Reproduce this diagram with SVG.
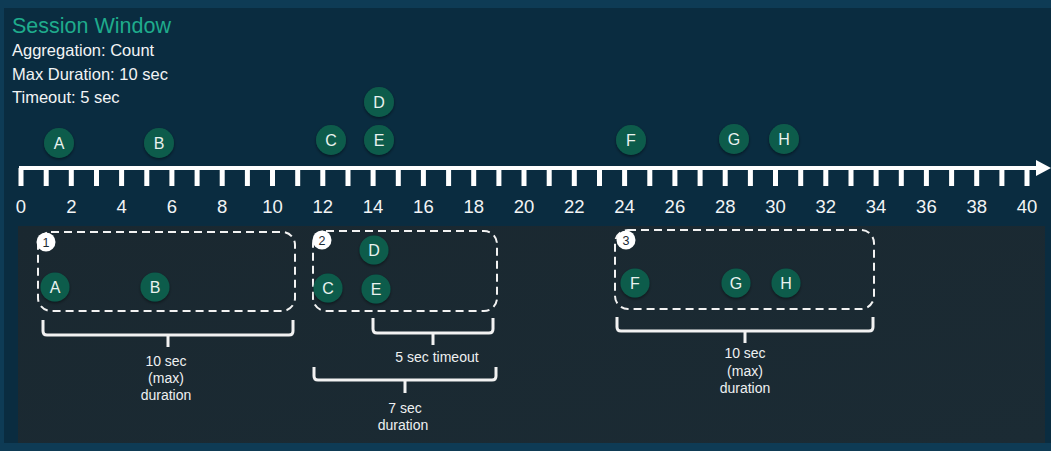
<svg xmlns="http://www.w3.org/2000/svg" width="1051" height="451" viewBox="0 0 1051 451">
<defs>
<style>
.ev{fill:#0e5c4b}
.evt{fill:#e9f2ef;font-family:"Liberation Sans",Arial,sans-serif;font-size:16px;text-anchor:middle}
.num{fill:#f2f4f5;font-family:"Liberation Sans",Arial,sans-serif;font-size:18.5px;text-anchor:middle}
.info{fill:#f2f4f5;font-family:"Liberation Sans",Arial,sans-serif;font-size:16.5px}
.lbl{fill:#eef0f1;font-family:"Liberation Sans",Arial,sans-serif;font-size:14px;text-anchor:middle}
.box{fill:none;stroke:#f2f2f2;stroke-width:2;stroke-dasharray:8 5}
.badge{fill:#ffffff}
.badget{fill:#1b2a33;font-family:"Liberation Sans",Arial,sans-serif;font-size:12.5px;text-anchor:middle}
.brace{fill:none;stroke:#f2f2f2;stroke-width:3;stroke-linejoin:round}
</style>
<filter id="sh" x="-30%" y="-30%" width="160%" height="160%">
<feDropShadow dx="0" dy="1.5" stdDeviation="1.5" flood-color="#000" flood-opacity="0.45"/>
</filter>
<linearGradient id="bot" x1="0" y1="0" x2="1" y2="1">
<stop offset="0" stop-color="#1a2830"/>
<stop offset="1" stop-color="#1b2b34"/>
</linearGradient>
</defs>
<rect x="0" y="0" width="1051" height="451" fill="#0e3b55"/>
<rect x="4" y="8" width="1047" height="443" fill="#0a2c40"/>
<rect x="18" y="226" width="1027" height="217" fill="url(#bot)"/>
<rect x="0" y="443" width="1051" height="8" fill="#0e3b55"/>

<g id="header">
<text x="12" y="33" fill="#1fab8c" font-family="'Liberation Sans',Arial,sans-serif" font-size="21.5">Session Window</text>
<text class="info" x="12" y="56">Aggregation: Count</text>
<text class="info" x="12" y="80">Max Duration: 10 sec</text>
<text class="info" x="12" y="103">Timeout: 5 sec</text>
</g>

<g id="timeline">
<line x1="19" y1="168" x2="1037" y2="168" stroke="#ffffff" stroke-width="4"/>
<polygon points="1036,160 1051,168 1036,176" fill="#ffffff"/>
<path stroke="#ffffff" stroke-width="5" fill="none" d="M21,168V186M46.2,168V186M71.3,168V186M96.5,168V186M121.6,168V186M146.8,168V186M171.9,168V186M197.1,168V186M222.2,168V186M247.4,168V186M272.5,168V186M297.7,168V186M322.8,168V186M348,168V186M373.1,168V186M398.3,168V186M423.4,168V186M448.6,168V186M473.7,168V186M498.9,168V186M524,168V186M549.2,168V186M574.3,168V186M599.5,168V186M624.6,168V186M649.8,168V186M674.9,168V186M700.1,168V186M725.2,168V186M750.4,168V186M775.5,168V186M800.7,168V186M825.8,168V186M851,168V186M876.1,168V186M901.3,168V186M926.4,168V186M951.6,168V186M976.7,168V186M1001.9,168V186M1027,168V186"/>
<text class="num" x="21" y="213">0</text>
<text class="num" x="71.3" y="213">2</text>
<text class="num" x="121.6" y="213">4</text>
<text class="num" x="171.9" y="213">6</text>
<text class="num" x="222.2" y="213">8</text>
<text class="num" x="272.5" y="213">10</text>
<text class="num" x="322.8" y="213">12</text>
<text class="num" x="373.1" y="213">14</text>
<text class="num" x="423.4" y="213">16</text>
<text class="num" x="473.7" y="213">18</text>
<text class="num" x="524" y="213">20</text>
<text class="num" x="574.3" y="213">22</text>
<text class="num" x="624.6" y="213">24</text>
<text class="num" x="674.9" y="213">26</text>
<text class="num" x="725.2" y="213">28</text>
<text class="num" x="775.5" y="213">30</text>
<text class="num" x="825.8" y="213">32</text>
<text class="num" x="876.1" y="213">34</text>
<text class="num" x="926.4" y="213">36</text>
<text class="num" x="976.7" y="213">38</text>
<text class="num" x="1027" y="213">40</text>
</g>

<g id="events-top">
<g id="ev-A"><circle class="ev" cx="59" cy="143" r="15" filter="url(#sh)"/><text class="evt" x="59" y="149">A</text></g>
<g id="ev-B"><circle class="ev" cx="159" cy="143" r="15" filter="url(#sh)"/><text class="evt" x="159" y="149">B</text></g>
<g id="ev-C"><circle class="ev" cx="331" cy="140" r="15" filter="url(#sh)"/><text class="evt" x="331" y="146">C</text></g>
<g id="ev-D"><circle class="ev" cx="379" cy="102" r="15" filter="url(#sh)"/><text class="evt" x="379" y="108">D</text></g>
<g id="ev-E"><circle class="ev" cx="379" cy="140" r="15" filter="url(#sh)"/><text class="evt" x="379" y="146">E</text></g>
<g id="ev-F"><circle class="ev" cx="631" cy="140" r="15" filter="url(#sh)"/><text class="evt" x="631" y="146">F</text></g>
<g id="ev-G"><circle class="ev" cx="734" cy="139" r="15" filter="url(#sh)"/><text class="evt" x="734" y="145">G</text></g>
<g id="ev-H"><circle class="ev" cx="784" cy="139" r="15" filter="url(#sh)"/><text class="evt" x="784" y="145">H</text></g>
</g>

<g id="session-1">
<rect class="box" x="38" y="232" width="257" height="79" rx="13"/>
<circle class="badge" cx="46" cy="242" r="9.5"/><text class="badget" x="46" y="246.5">1</text>
<circle class="ev" cx="55" cy="287" r="14.5" filter="url(#sh)"/><text class="evt" x="55" y="293">A</text>
<circle class="ev" cx="155" cy="287" r="14.5" filter="url(#sh)"/><text class="evt" x="155" y="293">B</text>
</g>

<g id="session-2">
<rect class="box" x="313" y="231" width="184" height="80" rx="13"/>
<circle class="badge" cx="322" cy="240" r="9.5"/><text class="badget" x="322" y="244.5">2</text>
<circle class="ev" cx="374" cy="250" r="14.5" filter="url(#sh)"/><text class="evt" x="374" y="256">D</text>
<circle class="ev" cx="328" cy="288" r="14.5" filter="url(#sh)"/><text class="evt" x="328" y="294">C</text>
<circle class="ev" cx="376" cy="289" r="14.5" filter="url(#sh)"/><text class="evt" x="376" y="295">E</text>
</g>

<g id="session-3">
<rect class="box" x="615" y="230" width="259" height="79" rx="13"/>
<circle class="badge" cx="626" cy="240" r="9.5"/><text class="badget" x="626" y="244.5">3</text>
<circle class="ev" cx="635" cy="283" r="14.5" filter="url(#sh)"/><text class="evt" x="635" y="289">F</text>
<circle class="ev" cx="736" cy="283" r="14.5" filter="url(#sh)"/><text class="evt" x="736" y="289">G</text>
<circle class="ev" cx="786" cy="283" r="14.5" filter="url(#sh)"/><text class="evt" x="786" y="289">H</text>
</g>

<g id="connectors">
<path class="brace" d="M43,320V331Q43,335 47,335H289Q293,335 293,331V320M168,335V347"/>
<path class="brace" d="M373,318V329Q373,333 377,333H489Q493,333 493,329V318M433,333V345"/>
<path class="brace" d="M314,367V376Q314,380 318,380H492Q496,380 496,376V367M405,380V393"/>
<path class="brace" d="M617,317V327Q617,331 621,331H869Q873,331 873,327V317M745,331V343"/>
</g>

<g id="labels">
<text class="lbl" x="166" y="366">10 sec</text>
<text class="lbl" x="166" y="383">(max)</text>
<text class="lbl" x="166" y="400">duration</text>
<text class="lbl" x="437" y="362">5 sec timeout</text>
<text class="lbl" x="405" y="413">7 sec</text>
<text class="lbl" x="403" y="430">duration</text>
<text class="lbl" x="745" y="358">10 sec</text>
<text class="lbl" x="745" y="376">(max)</text>
<text class="lbl" x="745" y="393">duration</text>
</g>
</svg>
